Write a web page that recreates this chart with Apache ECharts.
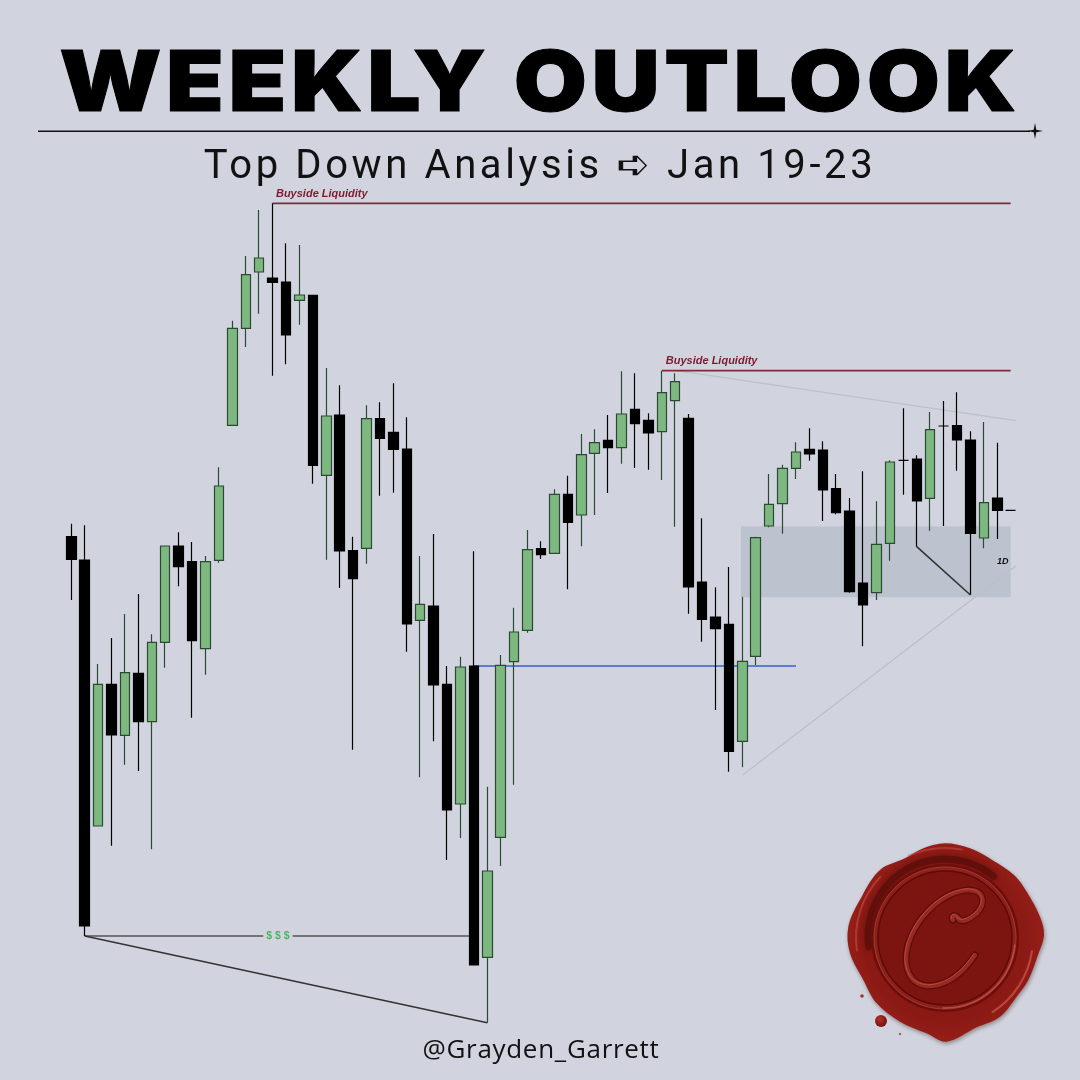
<!DOCTYPE html>
<html><head><meta charset="utf-8">
<style>html,body{margin:0;padding:0;background:#d1d4de}#c{width:1080px;height:1080px}</style>
<script src="https://cdn.jsdelivr.net/npm/echarts@6/dist/echarts.min.js"></script>
</head><body><div id="c"></div>
<script>
const opens  = [543.3,520,254,395.7,344.7,406.7,358.3,437.7,534,518.3,431.3,519.7,654.7,751.7,808,802,798,779.7,784.7,604.7,665,529.3,531.7,661.3,647.7,631,459.7,474,395.7,276,414,122.7,242.7,418.3,449.7,531.3,526.7,585.7,565,626.7,639.7,632.3,670.7,659.7,648.3,679.3,661.7,498,463,455.7,338.7,423.7,554,576.3,611.7,630.7,630,591.3,569,497,487.3,536.7,619.7,621,581.7,654,654.3,640,542,582,569.7];
const closes = [520.7,154,395.7,345,407.3,358.3,437.7,534,513.3,439.3,518.3,594,751.7,805.3,822,797.7,745,785,614.7,664,529,501.3,661.3,641.7,630.7,456,475.7,395,270,413,115,209,414.7,448,530.3,525.3,585.7,557.7,625.3,637.3,632.3,666,656.3,647,687.3,698.3,493,460.7,451.3,328.7,418.7,542.3,575.7,611.7,628,626,590,567.3,488.3,475,535.7,618,619.7,579,650.3,654,640,546.7,577.3,569.7,569.7];
const lows   = [480,144,254,234.3,315.3,309,230.7,412.3,493.7,362.3,405.3,517.3,654.7,733,766.3,704.3,715.7,755.3,596.3,520.3,492,330.3,516.3,584.3,587.3,428.3,302.7,338.7,220,242,115,57.3,214,295.3,447.3,521,526.7,490.7,533.7,565,587,616.3,612,610.3,600,553.3,466.3,438.3,370,308.3,312.7,415,552.7,546.3,601,619.3,559,565.7,487.3,433.7,480,519.3,585.3,533.3,549.3,554,609.3,485,531.7,541,569.7];
const highs  = [556.3,554.7,416,442,466,486,445.7,534,547.7,538,524,612.7,759.3,824,870,876.7,836.7,835,784.7,712,694.7,543.3,674.7,677.7,696.7,662.7,524,546,414,423.3,528.7,293.3,425,472.3,550,538.7,590.7,604.3,646,650.7,665,708.7,706.7,666.7,709.3,706.7,666,561.7,492.7,513,483.3,543.3,606,615.3,637.7,651.7,638.7,606,582,608.7,578.7,619.7,671.7,624.7,668,679,687.7,648.7,658,637.3,569.7];
const categories = opens.map((_, i) => String(i));

// Annotations, given as [candle index, price]
const buyside1 = [[15, 876.7], [70, 876.7]];
const buyside2 = [[44, 709.3], [70, 709.3]];
const blueLevel = [[30, 414], [54, 414]];
const upperTrend = [[45.1, 709.3], [70.37, 659.3]];
const lowerTrend = [[50.03, 305], [70.37, 514]];
const wedgeLine = [[1, 144], [31, 57.3]];
const flatLine = [[1, 144], [30, 144]];
const dipLine = [[63, 533.3], [67, 485]];
const zoneBox = [49.9, 70, 482.7, 553.7];
const labels = [
  { at: [15.25, 886], text: 'Buyside Liquidity', side: 'right', size: 11, color: '#7d1a2d', bg: null, italic: true },
  { at: [44.3, 719], text: 'Buyside Liquidity', side: 'right', size: 11, color: '#7d1a2d', bg: null, italic: true },
  { at: [15.4, 144], text: '$ $ $', side: 'inside', size: 10.5, color: '#4fb561', bg: '#d1d4de', italic: false },
  { at: [69.4, 518], text: '1D', side: 'inside', size: 9, color: '#111111', bg: null, italic: true }
];
const titleText = 'WEEKLY OUTLOOK';
const subtitleText = 'Top Down Analysis \u27AA Jan 19-23';
const handleText = '@Grayden_Garrett';

// Tracking for the three headline strings, which the canvas text element has no option for.
const tracking = { [titleText]: '4px', [subtitleText]: '3.6px', [handleText]: '0.7px' };
['fillText', 'strokeText'].forEach(name => {
  const plain = CanvasRenderingContext2D.prototype[name];
  CanvasRenderingContext2D.prototype[name] = function (t, x, y, m) {
    this.letterSpacing = tracking[t] || '0px';
    return m === undefined ? plain.call(this, t, x, y) : plain.call(this, t, x, y, m);
  };
});

const seg = (data, color, width, z) => ({
  type: 'line', xAxisIndex: 1, yAxisIndex: 0, data, showSymbol: false, silent: true, z,
  animation: false, lineStyle: { color, width }
});

// wax seal helpers (decoration)
const S = (x, y) => [820 + x / 3, 820 + y / 3];
const sealOutline = [[375,70],[450,85],[520,122],[582,165],[622,218],[660,290],[672,345],[652,410],[625,480],[590,530],[540,590],[470,622],[380,665],[320,640],[240,605],[170,550],[130,480],[90,400],[85,320],[125,230],[180,150],[255,115],[310,85]].map(p => S(p[0], p[1]));
const circle = (cx, cy, r, fill, stroke, lw) => ({ type: 'circle', shape: { cx, cy, r }, silent: true, style: { fill: fill || 'transparent', stroke: stroke || null, lineWidth: lw || 0 } });
const arc = (cx, cy, r, a0, a1, stroke, lw, opacity, blur) => ({ type: 'arc', silent: true, shape: { cx, cy, r, startAngle: a0, endAngle: a1 }, style: { stroke, lineWidth: lw, fill: 'transparent', opacity: opacity == null ? 1 : opacity, lineCap: 'round', shadowBlur: blur || 0, shadowColor: stroke } });
// monogram drawn as cubic pieces: x1,y1, c1x,c1y, c2x,c2y, x2,y2
const cPieces = [
  [953,920, 950,917, 955,913, 958,918],
  [958,918, 961,923, 968,921, 977,913],
  [977,913, 986,903, 985,890, 968,890],
  [968,890, 940,892, 915,920, 908,945],
  [908,945, 902,968, 910,986, 930,986],
  [930,986, 950,985, 965,970, 975,955]
];
const cStroke = (color, w, dx, dy) => cPieces.map(p => ({
  type: 'bezierCurve', silent: true,
  shape: { x1: p[0]+dx, y1: p[1]+dy, cpx1: p[2]+dx, cpy1: p[3]+dy, cpx2: p[4]+dx, cpy2: p[5]+dy, x2: p[6]+dx, y2: p[7]+dy },
  style: { stroke: color, lineWidth: w, fill: 'none', lineCap: 'round' }
}));

const graphic = [
  { type: 'text', silent: true, x: 540, y: 86, scaleX: 1.125, style: { text: titleText, font: '900 84px Inter, "Liberation Sans", sans-serif', fill: '#000', stroke: '#000', lineWidth: 1, align: 'center', verticalAlign: 'middle' } },
  { type: 'rect', silent: true, shape: { x: 38, y: 130.5, width: 992, height: 1.4 }, style: { fill: '#111' } },
  { type: 'polygon', silent: true, shape: { points: [[1035,123],[1036.3,129.7],[1043,131],[1036.3,132.3],[1035,139],[1033.7,132.3],[1027,131],[1033.7,129.7]] }, style: { fill: '#111' } },
  { type: 'text', silent: true, x: 540, y: 168, style: { text: subtitleText, font: '400 40px Roboto, "DejaVu Sans", sans-serif', fill: '#111', align: 'center', verticalAlign: 'middle' } },
  { type: 'text', silent: true, x: 541, y: 1051, style: { text: handleText, font: '400 26px "Open Sans", sans-serif', fill: '#111', align: 'center', verticalAlign: 'middle' } },
  // seal
  { type: 'polygon', silent: true, shape: { points: sealOutline, smooth: 0.35 }, style: {
      fill: { type: 'radial', x: 0.5, y: 0.5, r: 0.55, colorStops: [{ offset: 0, color: '#7e140f' }, { offset: 0.75, color: '#8c1a14' }, { offset: 1, color: '#9a211a' }] },
      shadowBlur: 4, shadowColor: 'rgba(40,10,10,0.4)', shadowOffsetX: 1, shadowOffsetY: 2 } },
  arc(945, 938, 89, 3.0, 3.9, '#c9534b', 2, 0.55),
  arc(945, 938, 90, 4.3, 4.9, '#c9534b', 2, 0.5),
  arc(945, 938, 88, 0.15, 1.0, '#d9665c', 2, 0.6),
  arc(945, 936, 77, 3.0, 5.4, '#4a0a07', 7, 0.5, 8),
  circle(945, 938, 74, '#6a0f0c'),
  circle(945, 938, 71, '#8f1f18', '#a23a32', 1),
  circle(945, 938, 67, '#7c1510', '#5a0c09', 1.5),
  arc(945, 938, 70, 0.1, 1.6, '#c9544a', 1.4, 0.8),
  ...cStroke('#5a0d09', 7, 0, 0),
  ...cStroke('#962a21', 4.5, 0, 0),
  ...cStroke('#c05046', 0.8, -1.2, -1.2),
  circle(881, 1021, 6, { type: 'radial', x: 0.4, y: 0.35, r: 0.7, colorStops: [{ offset: 0, color: '#b6302a' }, { offset: 1, color: '#6f100c' }] }),
  circle(862, 996, 1.8, '#a8342b'),
  circle(900, 1034, 1.1, '#a8342b')
];

const option = {
  backgroundColor: '#d1d4de',
  animation: false,
  grid: { left: 64.6, top: 0, width: 952.8, height: 1080, containLabel: false },
  xAxis: [
    { type: 'category', data: categories, show: false, boundaryGap: true },
    { type: 'value', min: -0.5, max: 70.5, show: false }
  ],
  yAxis: { type: 'value', min: 0, max: 1080, show: false },
  series: [
    { type: 'line', xAxisIndex: 1, data: [], silent: true, z: 1,
      markArea: { silent: true, itemStyle: { color: '#bcc3ce' }, data: [[{ coord: [zoneBox[0], zoneBox[2]] }, { coord: [zoneBox[1], zoneBox[3]] }]] } },
    seg(upperTrend, '#bcc0ca', 1.2, 1),
    seg(lowerTrend, '#bcc0ca', 1.2, 1),
    seg(blueLevel, '#3062d6', 1.7, 1),
    seg(buyside1, '#8a2434', 1.8, 1),
    seg(buyside2, '#8a2434', 1.8, 1),
    seg(flatLine, '#555', 1.5, 1),
    seg(wedgeLine, '#333', 1.5, 1),
    seg(dipLine, '#333', 1.6, 3),
    {
      type: 'candlestick', xAxisIndex: 0, z: 2, barWidth: 10, silent: true,
      data: opens.map((o, i) => [o, closes[i], lows[i], highs[i]]),
      itemStyle: { color: '#7db880', color0: '#000', borderColor: '#2c4a33', borderColor0: '#000', borderColorDoji: '#000', borderWidth: 1.2 }
    },
    {
      type: 'scatter', xAxisIndex: 1, z: 4, symbolSize: 0, silent: true, itemStyle: { opacity: 1 },
      data: labels.map(l => ({
        value: l.at,
        label: { show: true, position: l.side, formatter: l.text, color: l.color, fontSize: l.size, opacity: 1,
          fontStyle: l.italic ? 'italic' : 'normal', fontWeight: 'bold', fontFamily: '"Liberation Sans", sans-serif',
          distance: 0, backgroundColor: l.bg || 'transparent', padding: l.bg ? [0, 3] : 0 }
      }))
    }
  ],
  graphic
};
const chart = echarts.init(document.getElementById('c'), null, { renderer: 'canvas', width: 1080, height: 1080 });
chart.setOption(option);
</script></body></html>
